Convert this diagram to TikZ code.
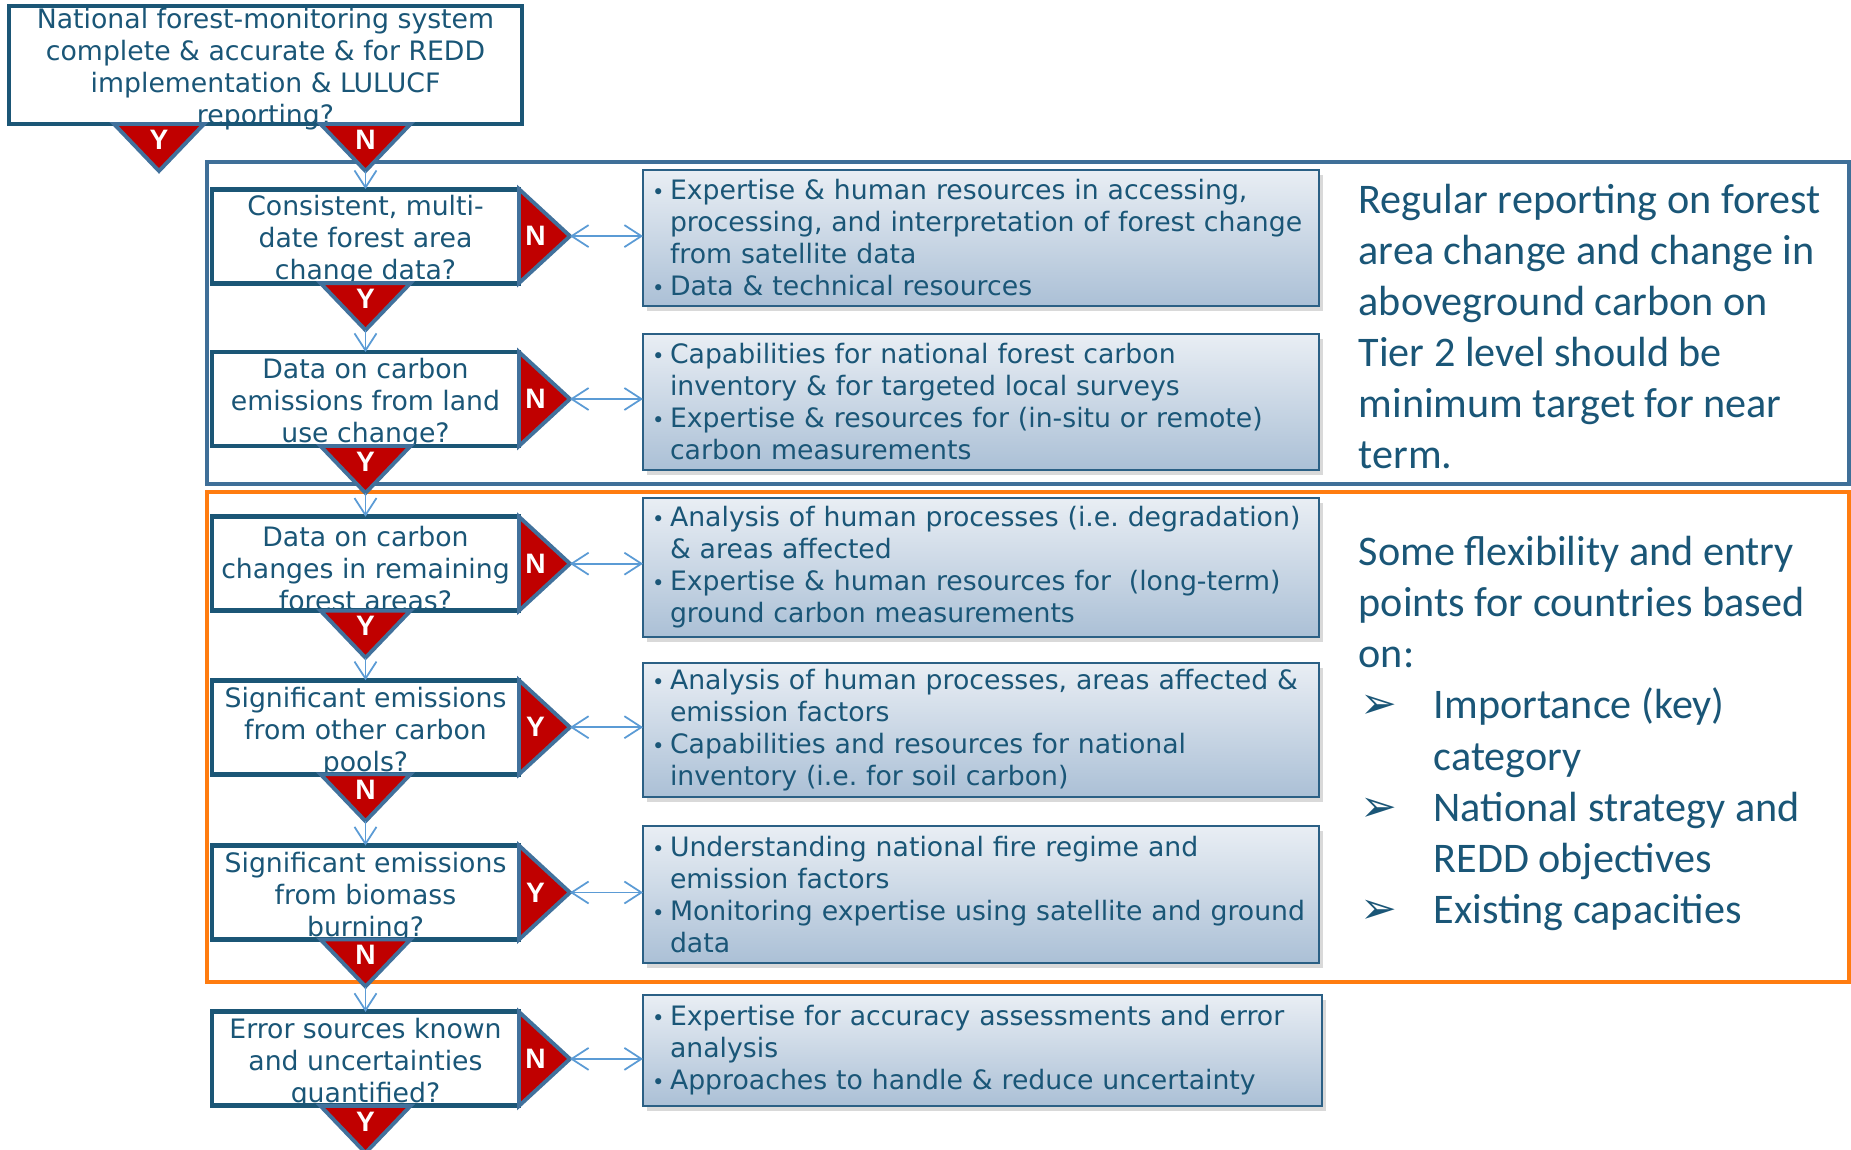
\documentclass[tikz,border=0pt]{standalone}
\usepackage{fontspec}
\setmainfont{DejaVu Sans}
\newfontfamily\calfont{Carlito}
\newfontfamily\ynfont{Liberation Sans}
\newfontfamily\dingfont{DejaVu Sans}
\usetikzlibrary{arrows.meta,shadows}
\frenchspacing

\definecolor{txtblue}{HTML}{1A5677}
\definecolor{qline}{HTML}{1B5676}
\definecolor{trired}{HTML}{C00000}
\definecolor{triline}{HTML}{41719C}
\definecolor{grpblue}{HTML}{3F6F98}
\definecolor{grporange}{HTML}{FF7C10}
\definecolor{linkblue}{HTML}{5B9BD5}
\definecolor{gtop}{HTML}{E9EEF4}
\definecolor{gbot}{HTML}{ABC0D6}
\definecolor{gline}{HTML}{2B6085}

\newcommand{\boxfont}{\fontsize{7.6}{9.1}\selectfont}
\newcommand{\qtext}[2]{\smash{\makebox[0pt]{\raisebox{-1.15mm}{\parbox[c]{#1}{\centering #2}}}}}
\newcommand{\bul}{\makebox[1.8mm][l]{\fontsize{6}{6}\selectfont\textbullet}}
\newcommand{\cont}{\hspace*{1.8mm}}
\newcommand{\flexitem}{\makebox[7.5mm][l]{\hspace{0.2mm}{\dingfont\fontsize{12.5}{12}\selectfont ➢}}}

\begin{document}
\begin{tikzpicture}[>={Straight Barb[length=1.7mm,width=2.2mm]},
    qbox/.style={draw=qline, line width=1.4pt, fill=white, minimum width=3.07cm, minimum height=0.94cm,
        inner sep=0pt, outer sep=0pt, font=\boxfont, text=txtblue},
    gbox/.style={draw=gline, line width=0.6pt, top color=gtop, bottom color=gbot,
        drop shadow={shadow xshift=0.4mm, shadow yshift=-0.5mm, opacity=0.3},
        minimum width=6.76cm, minimum height=1.36cm, text width=6.58cm, align=left,
        inner xsep=0.9mm, inner ysep=0pt, outer sep=0pt, anchor=west, font=\boxfont, text=txtblue},
    tri/.style={draw=triline, fill=trired, line width=1.1pt},
    yn/.style={text=white, font=\ynfont\bfseries\fontsize{8}{8}\selectfont, inner sep=0pt},
    link/.style={draw=linkblue, line width=0.5pt},
    note/.style={anchor=base west, align=left, inner sep=0pt, text=txtblue,
        font=\calfont\fontsize{12}{14.55}\selectfont}]
    \useasboundingbox (0,0) rectangle (18.51,-11.50);
    %\draw[help lines, color=gray!30, dashed] (0,0) grid (18.51,-11.5);
    \draw[draw=grpblue, line width=1pt] (2.07,-1.62) rectangle (18.49,-4.84);
    \draw[draw=grporange, line width=1pt] (2.07,-4.92) rectangle (18.49,-9.82);

    \node[qbox, minimum width=5.13cm, minimum height=1.18cm] (top) at (2.655,-0.65) {\qtext{5.1cm}{National forest-monitoring system\\complete \& accurate \& for REDD\\implementation \& LULUCF\\reporting?}};
    \node[qbox] (q1) at (3.655,-2.361)  {\qtext{3.2cm}{Consistent, multi-\\date forest area\\change data?}};
    \node[qbox] (q2) at (3.655,-3.990)  {\qtext{3.2cm}{Data on carbon\\emissions from land\\use change?}};
    \node[qbox] (q3) at (3.655,-5.637)  {\qtext{3.2cm}{Data on carbon\\changes in remaining\\forest areas?}};
    \node[qbox] (q4) at (3.655,-7.272)  {\qtext{3.2cm}{Significant emissions\\from other carbon\\pools?}};
    \node[qbox] (q5) at (3.655,-8.925)  {\qtext{3.2cm}{Significant emissions\\from biomass\\burning?}};
    \node[qbox] (q6) at (3.655,-10.589) {\qtext{3.2cm}{Error sources known\\and uncertainties\\quantified?}};

    \node[gbox] (g1) at (6.43,-2.38) {\bul Expertise \& human resources in accessing,\\\cont processing, and interpretation of forest change\\\cont from satellite data\\\bul Data \& technical resources};
    \node[gbox] (g2) at (6.43,-4.02) {\bul Capabilities for national forest carbon\\\cont inventory \& for targeted local surveys\\\bul Expertise \& resources for (in-situ or remote)\\\cont carbon measurements};
    \node[gbox, minimum height=1.39cm] (g3) at (6.43,-5.675) {\bul Analysis of human processes (i.e. degradation)\\\cont \& areas affected\\\bul Expertise \& human resources for\ \ (long-term)\\\cont ground carbon measurements};
    \node[gbox, minimum height=1.34cm] (g4) at (6.43,-7.30) {\bul Analysis of human processes, areas affected \&\\\cont emission factors\\\bul Capabilities and resources for national\\\cont inventory (i.e. for soil carbon)};
    \node[gbox, minimum height=1.37cm] (g5) at (6.43,-8.945) {\bul Understanding national fire regime and\\\cont emission factors\\\bul Monitoring expertise using satellite and ground\\\cont data};
    \node[gbox, minimum height=1.11cm, minimum width=6.79cm, text width=6.61cm] (g6) at (6.43,-10.505) {\bul Expertise for accuracy assessments and error\\\cont analysis\\\bul Approaches to handle \& reduce uncertainty};

    % Y / N markers
    \coordinate (ty) at ([xshift=-1.065cm]top.south);
    \coordinate (tn) at (top.south -| q1.north);
    \draw[tri] ([xshift=-4.5mm]ty) -- ([xshift=4.5mm]ty) -- ([yshift=-4.7mm]ty) -- cycle;
    \node[yn] (tyl) at ([yshift=-1.55mm]ty) {Y};
    \draw[tri] ([xshift=-4.5mm]tn) -- ([xshift=4.5mm]tn) -- ([yshift=-4.7mm]tn) coordinate (tnb) -- cycle;
    \node[yn] (tnl) at ([yshift=-1.55mm]tn) {N};

    \draw[tri] (q1.north east) -- (q1.south east) -- ([xshift=5.1mm]q1.east) coordinate (q1r) -- cycle;
    \node[yn] (q1n) at ([xshift=1.65mm]q1.east) {N};
    \draw[tri] ([xshift=-4.5mm]q1.south) -- ([xshift=4.5mm]q1.south) -- ([yshift=-4.7mm]q1.south) coordinate (q1b) -- cycle;
    \node[yn] (q1y) at ([yshift=-1.55mm]q1.south) {Y};

    \draw[tri] (q2.north east) -- (q2.south east) -- ([xshift=5.1mm]q2.east) coordinate (q2r) -- cycle;
    \node[yn] (q2n) at ([xshift=1.65mm]q2.east) {N};
    \draw[tri] ([xshift=-4.5mm]q2.south) -- ([xshift=4.5mm]q2.south) -- ([yshift=-4.7mm]q2.south) coordinate (q2b) -- cycle;
    \node[yn] (q2y) at ([yshift=-1.55mm]q2.south) {Y};

    \draw[tri] (q3.north east) -- (q3.south east) -- ([xshift=5.1mm]q3.east) coordinate (q3r) -- cycle;
    \node[yn] (q3n) at ([xshift=1.65mm]q3.east) {N};
    \draw[tri] ([xshift=-4.5mm]q3.south) -- ([xshift=4.5mm]q3.south) -- ([yshift=-4.7mm]q3.south) coordinate (q3b) -- cycle;
    \node[yn] (q3y) at ([yshift=-1.55mm]q3.south) {Y};

    \draw[tri] (q4.north east) -- (q4.south east) -- ([xshift=5.1mm]q4.east) coordinate (q4r) -- cycle;
    \node[yn] (q4y) at ([xshift=1.65mm]q4.east) {Y};
    \draw[tri] ([xshift=-4.5mm]q4.south) -- ([xshift=4.5mm]q4.south) -- ([yshift=-4.7mm]q4.south) coordinate (q4b) -- cycle;
    \node[yn] (q4n) at ([yshift=-1.55mm]q4.south) {N};

    \draw[tri] (q5.north east) -- (q5.south east) -- ([xshift=5.1mm]q5.east) coordinate (q5r) -- cycle;
    \node[yn] (q5y) at ([xshift=1.65mm]q5.east) {Y};
    \draw[tri] ([xshift=-4.5mm]q5.south) -- ([xshift=4.5mm]q5.south) -- ([yshift=-4.7mm]q5.south) coordinate (q5b) -- cycle;
    \node[yn] (q5n) at ([yshift=-1.55mm]q5.south) {N};

    \draw[tri] (q6.north east) -- (q6.south east) -- ([xshift=5.1mm]q6.east) coordinate (q6r) -- cycle;
    \node[yn] (q6n) at ([xshift=1.65mm]q6.east) {N};
    \draw[tri] ([xshift=-4.5mm]q6.south) -- ([xshift=4.5mm]q6.south) -- ([yshift=-4.7mm]q6.south) coordinate (q6b) -- cycle;
    \node[yn] (q6y) at ([yshift=-1.55mm]q6.south) {Y};

    % connectors
    \draw[link,->] (tnb) -- (q1);
    \draw[link,->] (q1b) -- (q2);
    \draw[link,->] (q2b) -- (q3);
    \draw[link,->] (q3b) -- (q4);
    \draw[link,->] (q4b) -- (q5);
    \draw[link,->] (q5b) -- (q6);
    \draw[link,<->] (q1r) -- (q1r -| g1.west);
    \draw[link,<->] (q2r) -- (q2r -| g2.west);
    \draw[link,<->] (q3r) -- (q3r -| g3.west);
    \draw[link,<->] (q4r) -- (q4r -| g4.west);
    \draw[link,<->] (q5r) -- (q5r -| g5.west);
    \draw[link,<->] (q6r) -- (q6r -| g6.west);

    \node[note] (regular) at (13.58,-4.69) {Regular reporting on forest\\area change and change in\\aboveground carbon on\\Tier 2 level should be\\minimum target for near\\term.};
    \node[note] (flexible) at (13.58,-9.235) {Some flexibility and entry\\points for countries based\\on:\\\flexitem Importance (key)\\\hspace*{7.5mm}category\\\flexitem National strategy and\\\hspace*{7.5mm}REDD objectives\\\flexitem Existing capacities};
\end{tikzpicture}
\end{document}
